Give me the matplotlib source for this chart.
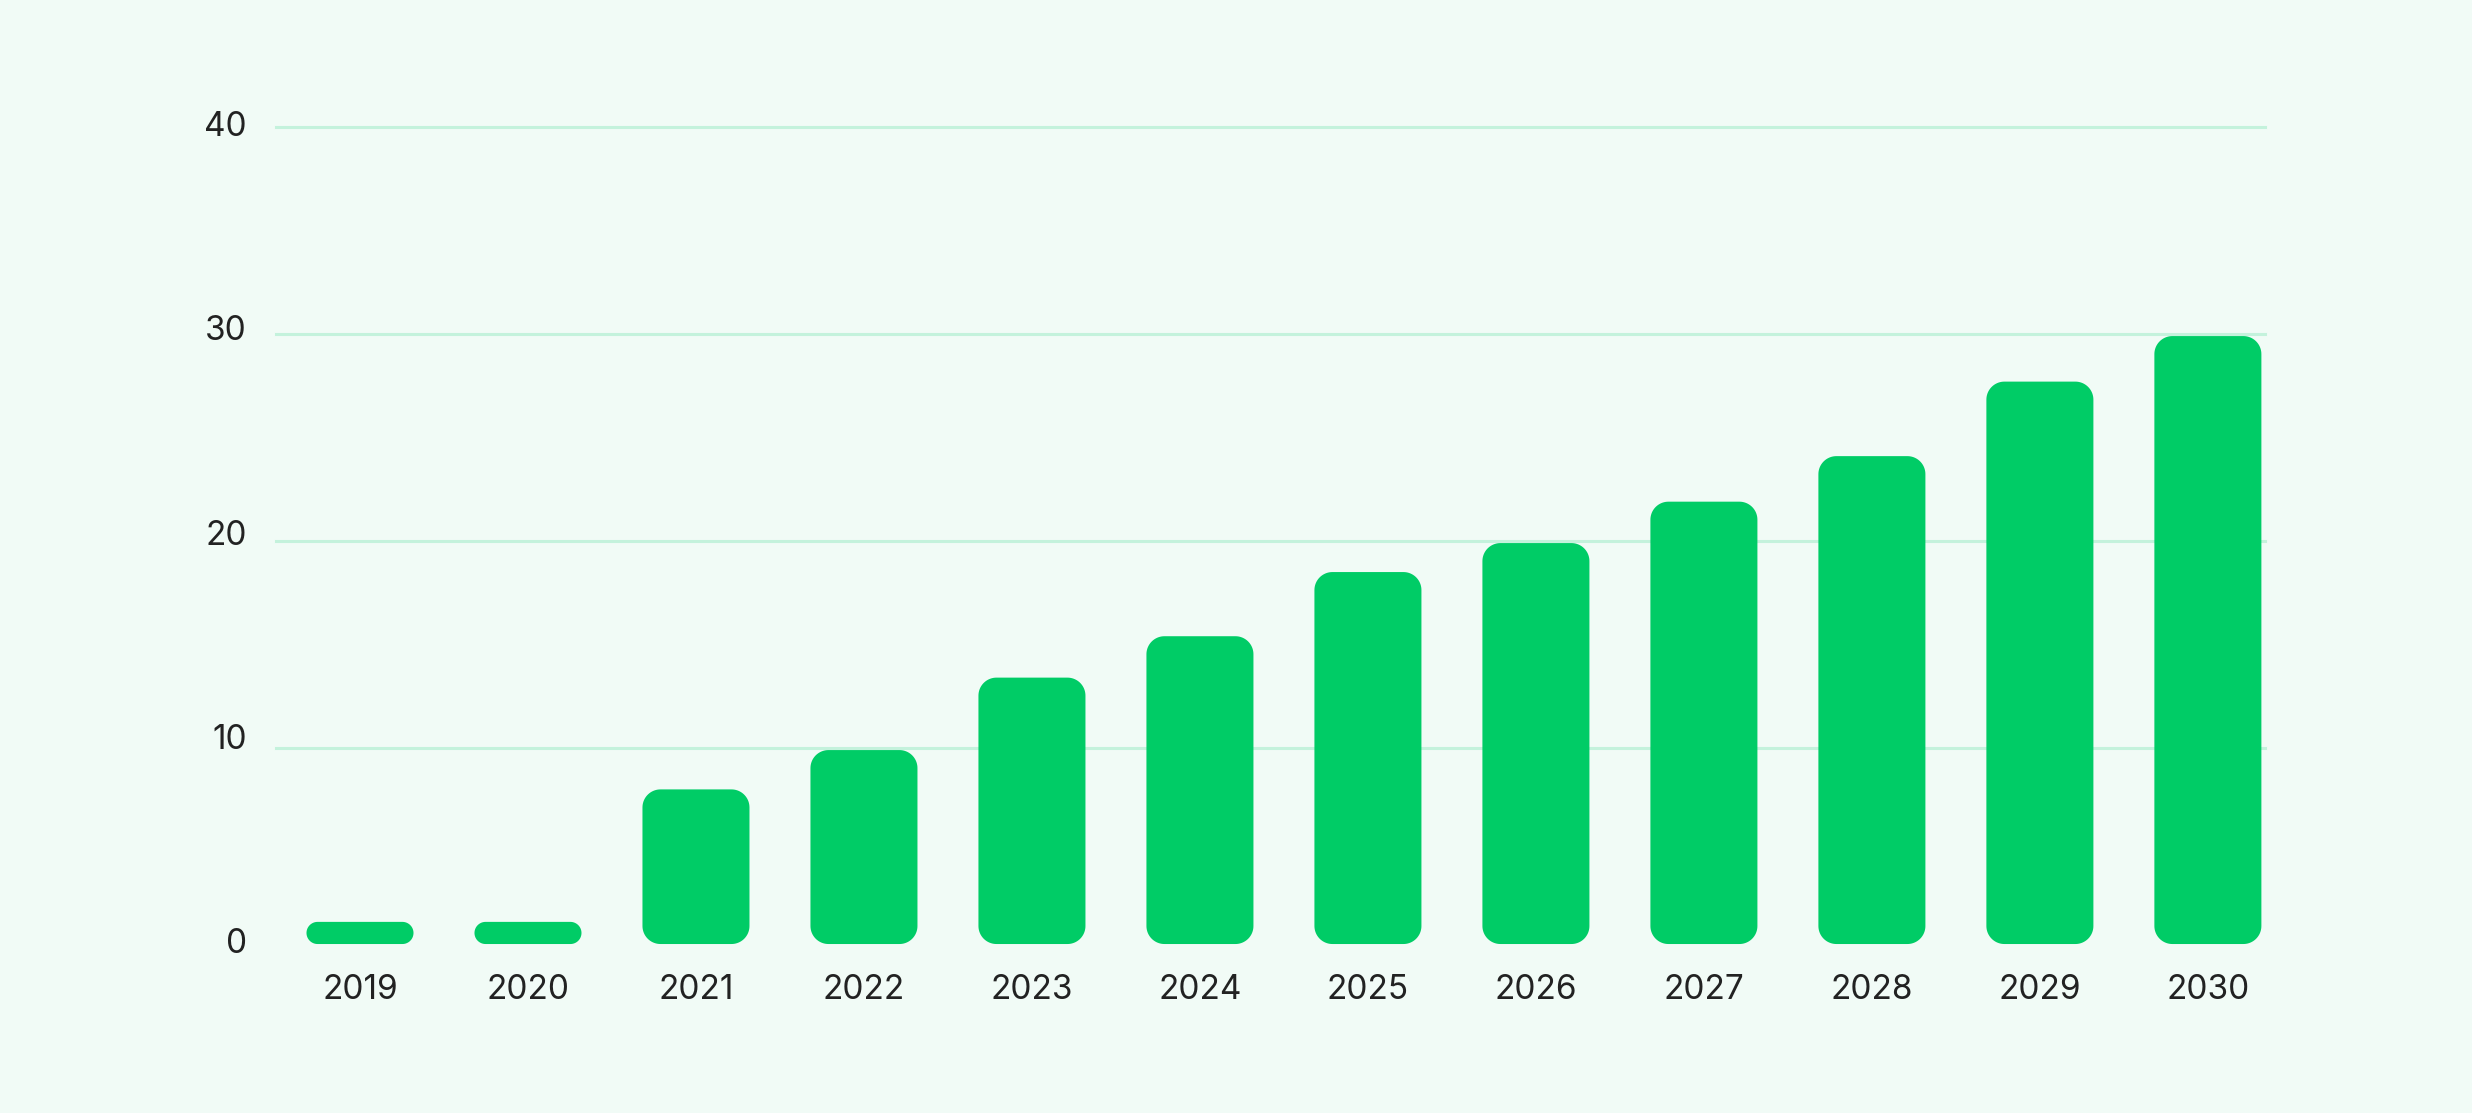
import numpy as np
import matplotlib
matplotlib.use('Agg')
import matplotlib.pyplot as plt
from matplotlib.patches import Polygon

# Data
years = ['2019', '2020', '2021', '2022', '2023', '2024',
         '2025', '2026', '2027', '2028', '2029', '2030']
values = [1.6, 1.6, 8.0, 9.9, 13.4, 15.4, 18.5, 19.9, 21.9, 24.1, 27.7, 29.9]
y_ticks = [0, 10, 20, 30, 40]

bg = '#f1fbf6'
bar_color = '#00cc66'
grid_color = '#c4f2dc'
text_color = '#222222'
base = 0.53  # bars sit slightly above zero

plt.rcParams['font.family'] = ['Inter', 'DejaVu Sans']

fig = plt.figure(figsize=(24.72, 11.13), dpi=100, facecolor=bg)
ax = fig.add_axes([0.11165, 0.14196, 0.80461, 0.74393])
ax.set_facecolor(bg)
ax.set_xlim(-0.5, 11.34)
ax.set_ylim(0, 40)

# pixels per data unit, for the rounded corners
p0 = ax.transData.transform((0, 0))
p1 = ax.transData.transform((1, 1))
px_x = p1[0] - p0[0]
px_y = p1[1] - p0[1]


def rounded_bar(xc, bottom, top, w, r_px):
    h_px = (top - bottom) * px_y
    r = min(r_px, h_px / 2, w * px_x / 2)
    rx, ry = r / px_x, r / px_y
    x0, x1 = xc - w / 2, xc + w / 2
    t = np.linspace(0, np.pi / 2, 20)
    pts = []
    # corners: top right, top left, bottom left, bottom right
    for cx, cy, a0 in [(x1 - rx, top - ry, 0), (x0 + rx, top - ry, np.pi / 2),
                       (x0 + rx, bottom + ry, np.pi), (x1 - rx, bottom + ry, 1.5 * np.pi)]:
        pts += list(zip(cx + rx * np.cos(a0 + t), cy + ry * np.sin(a0 + t)))
    return Polygon(pts, closed=True, fc=bar_color, ec='none', zorder=2)


for v in y_ticks[1:]:
    ax.axhline(v, color=grid_color, lw=2.2, zorder=0, clip_on=False)

width = 0.637
x = np.arange(len(years))
for xi, v in zip(x, values):
    ax.add_patch(rounded_bar(xi, base, v, width, 18))

ax.set_xticks(x)
ax.set_xticklabels(years, fontsize=24, color=text_color)
ax.tick_params(axis='x', length=0, pad=14)
ax.set_yticks([])

# y labels run from the bar baseline up to 40
for v in y_ticks:
    yy = base + v * (1 - base / 40)
    ax.text(-0.0146, yy, str(v), transform=ax.get_yaxis_transform(),
            ha='right', va='center', fontsize=24, color=text_color)

for s in ax.spines.values():
    s.set_visible(False)

fig.savefig('out.png', dpi=100, facecolor=bg)
